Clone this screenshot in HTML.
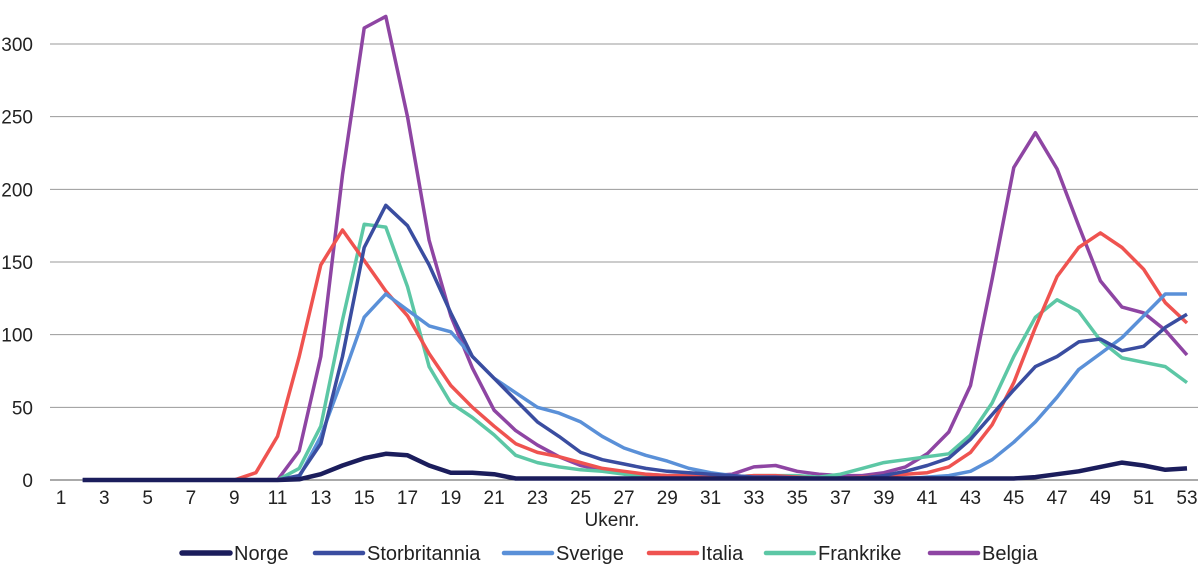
<!DOCTYPE html>
<html><head><meta charset="utf-8"><style>
body{margin:0;background:#fff}
svg{display:block;font-family:"Liberation Sans",sans-serif}
</style></head><body>
<svg id="c" width="1200" height="580"></svg>
<script>
const weeks=[];for(let w=2;w<=53;w++)weeks.push(w);
const norge=[0,0,0,0,0,0,0,0,0,0,0.5,4,10,15,18,17,10,5,5,4,1,1,1,1,1,1,1,1,1,1,1,1,1,1,1,1,1,1,1,1,1,1,1,1,2,4,6,9,12,10,7,8];
const storbritannia=[0,0,0,0,0,0,0,0,0,0,3,25,85,160,189,175,148,115,85,70,55,40,30,19,14,11,8,6,5,4,3,2,2,1.5,1,1,1.5,3,6,10,15,28,45,62,78,85,95,97,89,92,105,114];
const sverige=[0,0,0,0,0,0,0,0,0,0,2,30,70,112,128,117,106,102,85,70,60,50,46,40,30,22,17,13,8,5,3,2,2,1,1,1,1,1,1,2,3,6,14,26,40,57,76,87,98,113,128,128];
const italia=[0,0,0,0,0,0,0,0,5,30,85,148,172,151,130,113,87,65,50,37,25,19,16,12,8,6,4,3,3,2,2,3,3,2,1,1,2,3,4,5,9,19,38,67,105,140,160,170,160,145,122,108];
const frankrike=[0,0,0,0,0,0,0,0,0,0,8,37,110,176,174,133,78,53,43,31,17,12,9,7,6,4,3,2,2,2,2,3,3,3,2,4,8,12,14,16,18,31,53,85,112,124,116,96,84,81,78,67];
const belgia=[0,0,0,0,0,0,0,0,0,0,20,85,210,311,319,250,165,113,77,48,34,24,16,10,7,5,4,3,3,3,4,9,10,6,4,3,3,5,9,18,33,65,138,215,239,214,175,137,119,115,103,86];
const yTicks=[0,50,100,150,200,250,300];
const xTicks=[1,3,5,7,9,11,13,15,17,19,21,23,25,27,29,31,33,35,37,39,41,43,45,47,49,51,53];
const seriesNames=["Norge","Storbritannia","Sverige","Italia","Frankrike","Belgia"];
const seriesData=[norge,storbritannia,sverige,italia,frankrike,belgia];
const colors=["#1b1d5c","#3a4da0","#5a90d8","#ef5350","#5cc7a5","#8e45a3"];
const widths=[4.5,3.5,3.5,3.5,3.5,3.5];
const legendX=[182,315,504,649,766,930];
const NS="http://www.w3.org/2000/svg";
const svg=document.getElementById('c');
const x=w=>61+(w-1)*(1187-61)/52;
const y=v=>480-v*(480-44)/300;
function mk(t,a,p){const e=document.createElementNS(NS,t);for(const k in a)e.setAttribute(k,a[k]);(p||svg).appendChild(e);return e;}
yTicks.forEach(v=>{
 const l=mk('line',{x1:50,x2:1198,y1:y(v),y2:y(v),stroke:v===0?'#555':'#9a9a9a','stroke-width':1});
 
 
 const t=mk('text',{x:33,y:y(v)+7,'text-anchor':'end','font-size':19,fill:'#222'});
 t.textContent=v;
 
 
});
xTicks.forEach(w=>{
 const t=mk('text',{x:x(w),y:504,'text-anchor':'middle','font-size':19,fill:'#222'});
 t.textContent=w;
 
 
});
const xt=mk('text',{x:612,y:526,'text-anchor':'middle','font-size':19,fill:'#222'});
xt.textContent='Ukenr.';


for(let s=seriesData.length-1;s>=0;s--){
 const d=seriesData[s];
 const pts=weeks.map((w,i)=>x(w).toFixed(1)+','+y(d[i]).toFixed(1)).join(' ');
 const p=mk('polyline',{points:pts,fill:'none',stroke:colors[s],'stroke-width':widths[s],'stroke-linejoin':'round'});
 
 
}
seriesNames.forEach((n,i)=>{
 const g=mk('g',{});
 
 
 mk('line',{x1:legendX[i],x2:legendX[i]+48,y1:553,y2:553,stroke:colors[i],'stroke-width':widths[i]+1,'stroke-linecap':'round'},g);
 const t=mk('text',{x:legendX[i]+52,y:560,'font-size':20,fill:'#222'},g);
 t.textContent=n;
});
</script>
</body></html>
